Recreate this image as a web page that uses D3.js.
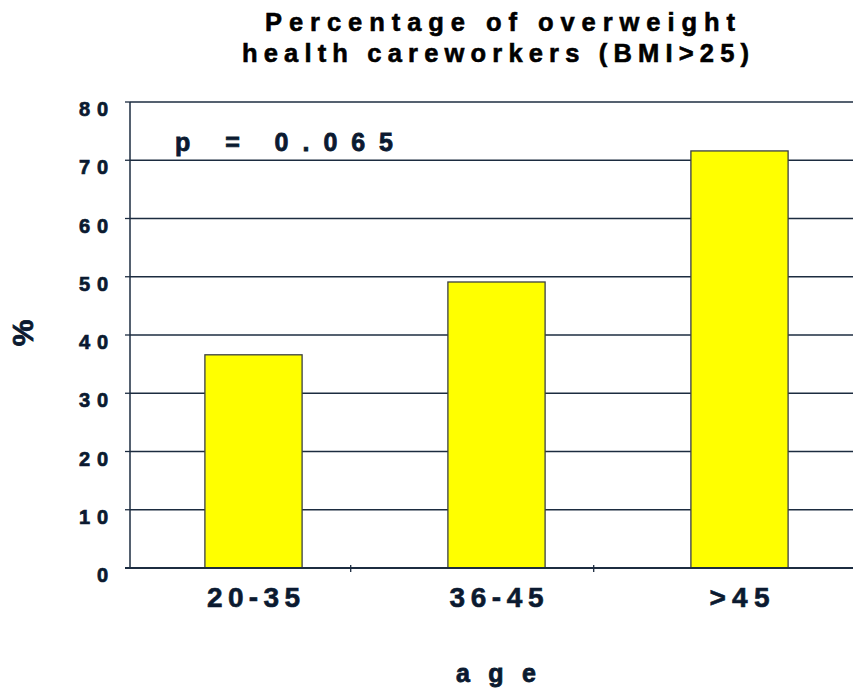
<!DOCTYPE html>
<html><head><meta charset="utf-8">
<script src="https://cdn.jsdelivr.net/npm/d3@7/dist/d3.min.js"></script>
<style>
html,body{margin:0;padding:0;background:#fff;}
text{font-family:Arial,"Liberation Sans",sans-serif;font-weight:bold;}
</style></head>
<body><svg id="c" width="853" height="690"></svg>
<script>
const categories = ["20-35", "36-45", ">45"];
const values = [36.6, 49.1, 71.6];
const yTicks = [0, 10, 20, 30, 40, 50, 60, 70, 80];
const titleLines = ["Percentage of overweight", "health careworkers (BMI>25)"];
const annotation = "p = 0.065";
const yTitle = "%";
const xTitle = "age";

const svg = d3.select("#c");
const ink = "#0b1a30";
const x0 = 130, xEnd = 853, yBottom = 568, yTop = 102;

const y = d3.scaleLinear().domain([0, 80]).range([yBottom, yTop]);
const x = d3.scaleBand().domain(categories).range([132, 861]).paddingInner(0.6).paddingOuter(0.3);

// title
const tl = [{t: titleLines[0], x: 265, y: 31, len: 470}, {t: titleLines[1], x: 242, y: 62, len: 507}];
svg.selectAll(".title").data(tl).join("text")
  .attr("x", d => d.x).attr("y", d => d.y)
  .attr("font-size", 25.5).attr("fill", "#000").attr("stroke", "#000").attr("stroke-width", 0.6)
  .attr("textLength", d => d.len).attr("lengthAdjust", "spacing")
  .text(d => d.t);

// gridlines
svg.selectAll(".grid").data(yTicks).join("line")
  .attr("x1", x0).attr("x2", xEnd)
  .attr("y1", d => y(d)).attr("y2", d => y(d))
  .attr("stroke", "#1c2c40").attr("stroke-width", 1.3);

// y axis line + ticks
svg.append("line").attr("x1", x0).attr("x2", x0).attr("y1", yTop).attr("y2", yBottom)
  .attr("stroke", "#1c2c40").attr("stroke-width", 1.5);
svg.selectAll(".yt").data(yTicks).join("line")
  .attr("x1", x0 - 5).attr("x2", x0).attr("y1", d => y(d)).attr("y2", d => y(d))
  .attr("stroke", "#1c2c40").attr("stroke-width", 1.3);

// y labels
svg.selectAll(".yl").data(yTicks).join("text")
  .attr("x", 108).attr("y", d => y(d) + 14)
  .attr("text-anchor", "end").attr("font-size", 20).attr("fill", ink)
  .attr("stroke", ink).attr("stroke-width", 0.7)
  .attr("textLength", d => d === 0 ? 12 : 29).attr("lengthAdjust", "spacing")
  .text(d => String(d));

// bars
svg.selectAll(".bar").data(categories).join("rect")
  .attr("x", d => x(d)).attr("width", x.bandwidth())
  .attr("y", (d, i) => y(values[i])).attr("height", (d, i) => y(0) - y(values[i]))
  .attr("fill", "#ffff00").attr("stroke", "#3a3f44").attr("stroke-width", 1.3);

// x axis line (over bars)
svg.append("line").attr("x1", x0 - 5).attr("x2", xEnd).attr("y1", yBottom).attr("y2", yBottom)
  .attr("stroke", "#1c2c40").attr("stroke-width", 2);
svg.selectAll(".xt").data(categories.slice(1)).join("line")
  .attr("x1", d => x(d) - x.bandwidth()).attr("x2", d => x(d) - x.bandwidth())
  .attr("y1", yBottom - 3).attr("y2", yBottom + 4)
  .attr("stroke", "#1c2c40").attr("stroke-width", 1.3);

// x labels
const xlLen = {"20-35": 93, "36-45": 94, ">45": 60};
svg.selectAll(".xl").data(categories).join("text")
  .attr("x", d => x(d) + x.bandwidth() / 2 - xlLen[d] / 2).attr("y", 607)
  .attr("font-size", 28).attr("fill", ink).attr("stroke", ink).attr("stroke-width", 0.6)
  .attr("textLength", d => xlLen[d]).attr("lengthAdjust", "spacing")
  .text(d => d);

// annotation
svg.append("text").attr("x", 175).attr("y", 151)
  .attr("font-size", 25).attr("fill", ink).attr("stroke", ink).attr("stroke-width", 0.8)
  .attr("textLength", 218).attr("lengthAdjust", "spacing")
  .attr("xml:space", "preserve").style("white-space", "pre")
  .text(annotation);

// axis titles
svg.append("text").attr("transform", "translate(33,333) rotate(-90)")
  .attr("text-anchor", "middle").attr("font-size", 30).attr("fill", ink)
  .attr("stroke", ink).attr("stroke-width", 0.8)
  .text(yTitle);
svg.append("text").attr("x", 456).attr("y", 682)
  .attr("font-size", 25).attr("fill", ink).attr("stroke", ink).attr("stroke-width", 0.8)
  .attr("textLength", 80).attr("lengthAdjust", "spacing")
  .text(xTitle);
</script></body></html>
